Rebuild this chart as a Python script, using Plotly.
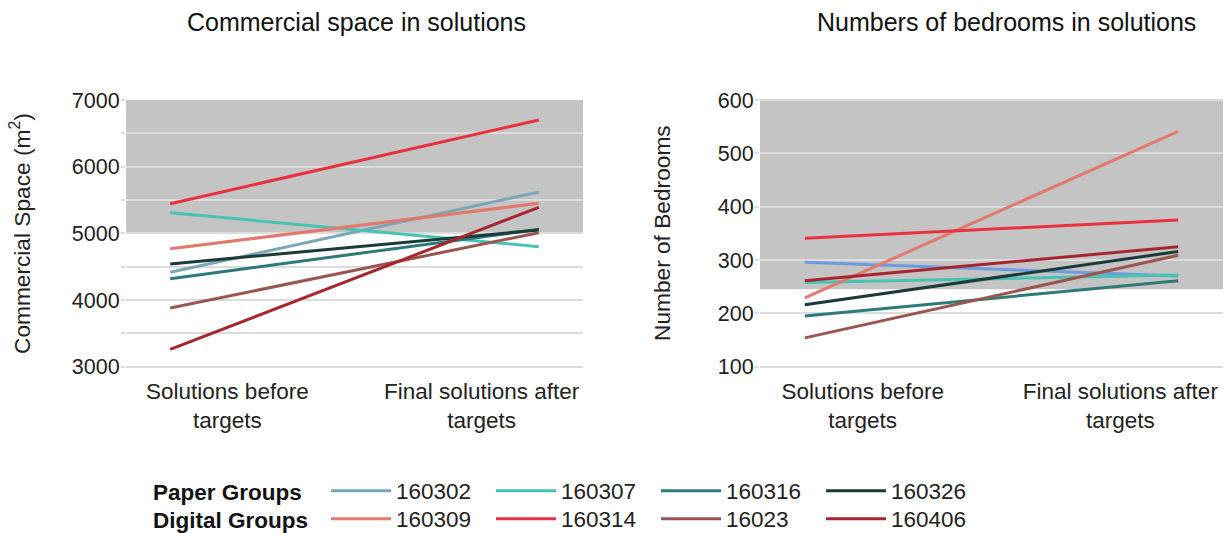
import plotly.graph_objects as go

W, H = 1231, 533

stages = [0, 1]
stage_label_pos = [0.155, 0.845]
stage_labels = ["Solutions before<br>targets", "Final solutions after<br>targets"]

groups = ["160302", "160307", "160316", "160326", "160309", "160314", "16023", "160406"]
group_type = ["Paper", "Paper", "Paper", "Paper", "Digital", "Digital", "Digital", "Digital"]
colors = ["#7aa7b8", "#48c3b2", "#2d7a76", "#1b3a39", "#e07a6e", "#e8303f", "#9b5550", "#a6262f"]
colors_right = ["#6a9cdf", "#48c3b2", "#2d7a76", "#1b3a39", "#e07a6e", "#e8303f", "#9b5550", "#a6262f"]

commercial_before = [4415, 5310, 4320, 4540, 4770, 5445, 3880, 3260]
commercial_after = [5620, 4800, 5060, 5050, 5450, 6700, 5010, 5390]

bedrooms_before = [296, 258, 195, 216, 229, 341, 154, 261]
bedrooms_after = [270, 272, 261, 316, 541, 375, 309, 325]

left_ticks = [3000, 4000, 5000, 6000, 7000]
right_ticks = [100, 200, 300, 400, 500, 600]

FONT = "Liberation Sans, Arial, sans-serif"

fig = go.Figure()

for i, g in enumerate(groups):
    leg = "legend" if group_type[i] == "Paper" else "legend2"
    fig.add_trace(go.Scatter(
        x=stages, y=[commercial_before[i], commercial_after[i]],
        mode="lines", name=g, line=dict(color=colors[i], width=3),
        xaxis="x", yaxis="y", legend=leg, showlegend=True, hoverinfo="skip"))
for i, g in enumerate(groups):
    fig.add_trace(go.Scatter(
        x=stages, y=[bedrooms_before[i], bedrooms_after[i]],
        mode="lines", name=g, line=dict(color=colors_right[i], width=3),
        xaxis="x2", yaxis="y2", showlegend=False, hoverinfo="skip"))

ydom = [1 - 375 / H, 1 - 99 / H]
xdom1 = [126 / W, 583 / W]
xdom2 = [760 / W, 1223 / W]

common_x = dict(range=[-0.12, 1.12], tickmode="array", tickvals=stage_label_pos,
                ticktext=stage_labels, showgrid=False, zeroline=False, showline=False,
                ticks="", ticklabelstandoff=0,
                tickfont=dict(size=22.5, color="#222222", family=FONT), automargin=False,
                fixedrange=True)
common_y = dict(showgrid=True, gridcolor="#dcdcdc", gridwidth=1.5, zeroline=False, showline=False,
                ticks="outside", ticklen=4, tickcolor="#dcdcdc", tickwidth=1.5,
                ticklabelstandoff=-3,
                tickfont=dict(size=21.5, color="#222222", family=FONT), automargin=False,
                fixedrange=True)

fig.update_layout(
    width=W, height=H,
    template="none",
    paper_bgcolor="white", plot_bgcolor="white",
    margin=dict(l=0, r=0, t=0, b=0, autoexpand=False),
    font=dict(family=FONT, size=22, color="#222222"),
    xaxis=dict(domain=xdom1, anchor="y", **common_x),
    xaxis2=dict(domain=xdom2, anchor="y2", **common_x),
    yaxis=dict(domain=ydom, anchor="x", range=[2875, 7015], tickvals=left_ticks,
               minor=dict(dtick=500, showgrid=True, gridcolor="#dcdcdc", gridwidth=1.5,
                          ticks="outside", ticklen=4, tickcolor="#dcdcdc"),
               **common_y),
    yaxis2=dict(domain=ydom, anchor="x2", range=[84.4, 601.9], tickvals=right_ticks, **common_y),
    shapes=[
        dict(type="rect", xref="x domain", yref="y", x0=0, x1=1, y0=5000, y1=7000,
             fillcolor="#c4c4c4", line=dict(width=0), layer="below"),
        dict(type="rect", xref="x2 domain", yref="y2", x0=0, x1=1, y0=245, y1=600,
             fillcolor="#c4c4c4", line=dict(width=0), layer="below"),
    ],
    annotations=[
        dict(text="Commercial space in solutions", x=357 / W, y=1 - 22 / H, xref="paper", yref="paper",
             showarrow=False, font=dict(size=25, family=FONT, color="#111111"), xanchor="center", yanchor="middle"),
        dict(text="Numbers of bedrooms in solutions", x=1006 / W, y=1 - 22 / H, xref="paper", yref="paper",
             showarrow=False, font=dict(size=25, family=FONT, color="#111111"), xanchor="center", yanchor="middle"),
        dict(text="Commercial Space (m<sup>2</sup>)", x=21 / W, y=1 - 234 / H, xref="paper", yref="paper",
             textangle=-90, showarrow=False, font=dict(size=22.7, family=FONT, color="#222222"),
             xanchor="center", yanchor="middle"),
        dict(text="Number of Bedrooms", x=662 / W, y=1 - 233 / H, xref="paper", yref="paper",
             textangle=-90, showarrow=False, font=dict(size=22.7, family=FONT, color="#222222"),
             xanchor="center", yanchor="middle"),
        dict(text="<b>Paper Groups</b>", x=151 / W, y=1 - 492 / H, xref="paper", yref="paper",
             showarrow=False, font=dict(size=22.5, family=FONT, color="#111111"), xanchor="left", yanchor="middle"),
        dict(text="<b>Digital Groups</b>", x=151 / W, y=1 - 520 / H, xref="paper", yref="paper",
             showarrow=False, font=dict(size=22.5, family=FONT, color="#111111"), xanchor="left", yanchor="middle"),
    ],
    legend=dict(orientation="h", x=326 / W, y=1 - 491 / H, xanchor="left", yanchor="middle",
                bgcolor="rgba(0,0,0,0)", font=dict(size=22.5, family=FONT, color="#222222"),
                itemwidth=60, entrywidth=90, entrywidthmode="pixels", traceorder="normal",
                itemclick=False, itemdoubleclick=False),
    legend2=dict(orientation="h", x=326 / W, y=1 - 519 / H, xanchor="left", yanchor="middle",
                 bgcolor="rgba(0,0,0,0)", font=dict(size=22.5, family=FONT, color="#222222"),
                 itemwidth=60, entrywidth=90, entrywidthmode="pixels", traceorder="normal",
                 itemclick=False, itemdoubleclick=False),
)

fig.write_html("out.html", config={"displayModeBar": False},
               post_script="document.body.style.margin='0';document.body.style.overflow='hidden';")
